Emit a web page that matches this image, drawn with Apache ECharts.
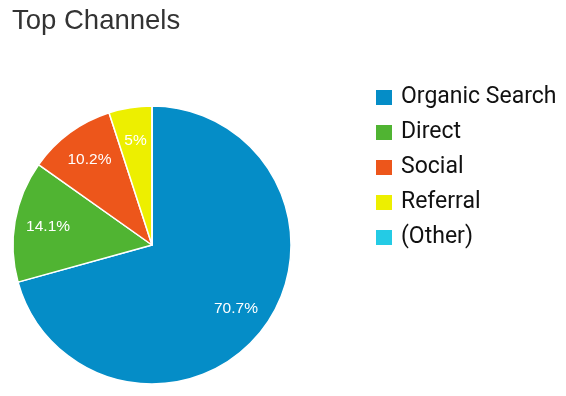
<!DOCTYPE html>
<html><head><meta charset="utf-8">
<script src="https://cdn.jsdelivr.net/npm/echarts@6/dist/echarts.min.js"></script>
<style>html,body{margin:0;padding:0;background:#fff}#c{width:566px;height:396px}</style>
</head><body><div id="c"></div>
<script>
const categories = ["Organic Search", "Direct", "Social", "Referral", "(Other)"];
const values = [70.7, 14.1, 10.2, 5.0, 0];
const colors = ["#058DC7", "#50B432", "#ED561B", "#EDEF00", "#24CBE5"];
const titleText = "Top Channels";

const data = categories.map((n, i) => ({ name: n, value: values[i], itemStyle: { color: colors[i] } }));
const chart = echarts.init(document.getElementById('c'), null, { renderer: 'canvas' });
chart.setOption({
  animation: false,
  title: { text: titleText, left: 7, top: 2, textStyle: { fontFamily: 'Liberation Sans, Arial', fontSize: 27.5, fontWeight: 'normal', color: '#333' } },
  legend: {
    orient: 'vertical', left: 374, top: 86, padding: 0, icon: 'rect', itemWidth: 18, itemHeight: 17, itemGap: 12,
    data: categories,
    textStyle: { fontFamily: 'Roboto', fontSize: 23, color: '#111', lineHeight: 23, padding: [0, 0, 0, 3] }
  },
  series: [
    {
      type: 'pie', center: [152, 245], radius: [0, 139], startAngle: 90, clockwise: true,
      data: data, label: { show: false }, labelLine: { show: false },
      itemStyle: { borderColor: '#fff', borderWidth: 1.5 }, emphasis: { disabled: true }
    },
    {
      type: 'pie', center: [152, 245], radius: [66, 139], startAngle: 90, clockwise: true, silent: true,
      data: categories.map((n, i) => ({ name: n, value: values[i] })),
      itemStyle: { color: 'rgba(0,0,0,0)', borderWidth: 0 },
      label: { show: true, position: 'inside', color: '#fff', fontFamily: 'Liberation Sans, Arial', fontSize: 15.5,
        formatter: p => p.value > 0 ? p.value + '%' : '' },
      labelLine: { show: false }, emphasis: { disabled: true }
    }
  ]
});
</script></body></html>
